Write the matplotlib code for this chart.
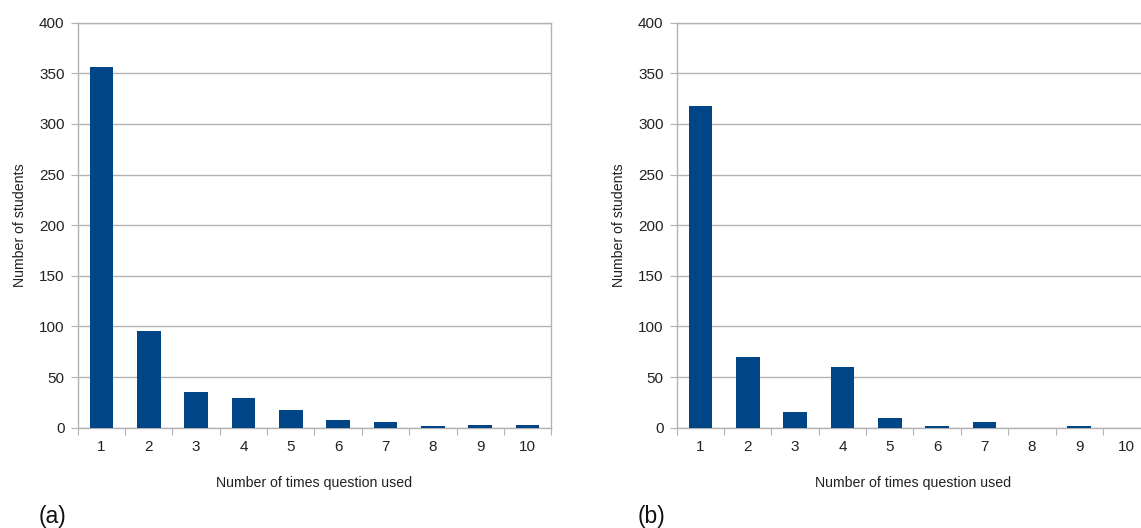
import numpy as np
import matplotlib
matplotlib.use('Agg')
import matplotlib.pyplot as plt
from matplotlib.ticker import FixedLocator

plt.rcParams['font.family'] = ['Liberation Sans', 'DejaVu Sans']

# ── Data ──────────────────────────────────────────────────────────────────
times_used = [1, 2, 3, 4, 5, 6, 7, 8, 9, 10]
students_a = [356, 96, 35, 29, 17, 8, 6, 2, 3, 3]
students_b = [318, 70, 16, 60, 10, 2, 6, 0, 2, 0]
panel_labels = ['(a)', '(b)']

bar_color = '#004586'
grid_color = '#b3b3b3'
text_color = '#222222'

fig = plt.figure(figsize=(11.41, 5.28), dpi=100)

W, H = 1141, 528
axes_px = [(77.7, 427.7), (676.7, 427.7)]
ax_w, ax_h = 473.5, 405

for (x0, y0), vals, lab in zip(axes_px, [students_a, students_b], panel_labels):
    ax = fig.add_axes([x0 / W, (H - y0) / H, ax_w / W, ax_h / H])
    ax.bar(times_used, vals, width=0.5, color=bar_color, zorder=3)
    ax.set_xlim(0.5, 10.5)
    ax.set_ylim(0, 400)
    ax.set_yticks(np.arange(0, 401, 50))
    ax.set_xticks(times_used)
    ax.xaxis.set_minor_locator(FixedLocator(np.arange(0.5, 10.6, 1)))
    ax.tick_params(axis='x', which='major', length=0, pad=9, labelsize=11, colors=text_color)
    ax.tick_params(axis='x', which='minor', length=5, width=0.8, color=grid_color, direction='out')
    ax.tick_params(axis='y', length=5, width=0.8, color=grid_color, labelsize=11,
                   labelcolor=text_color, pad=4.5)
    ax.grid(axis='y', color=grid_color, linewidth=1.0, zorder=0)
    for s in ax.spines.values():
        s.set_color(grid_color)
        s.set_linewidth(1.0)
    ax.set_xlabel('Number of times question used', fontsize=10.2, color=text_color, labelpad=16)
    ax.set_ylabel('Number of students', fontsize=10.2, color=text_color, labelpad=9)
    fig.text((x0 - 39) / W, (H - 517) / H, lab, fontsize=16.5, color='#111111',
             ha='left', va='center')

fig.savefig('out.png', dpi=100)
plt.close(fig)
